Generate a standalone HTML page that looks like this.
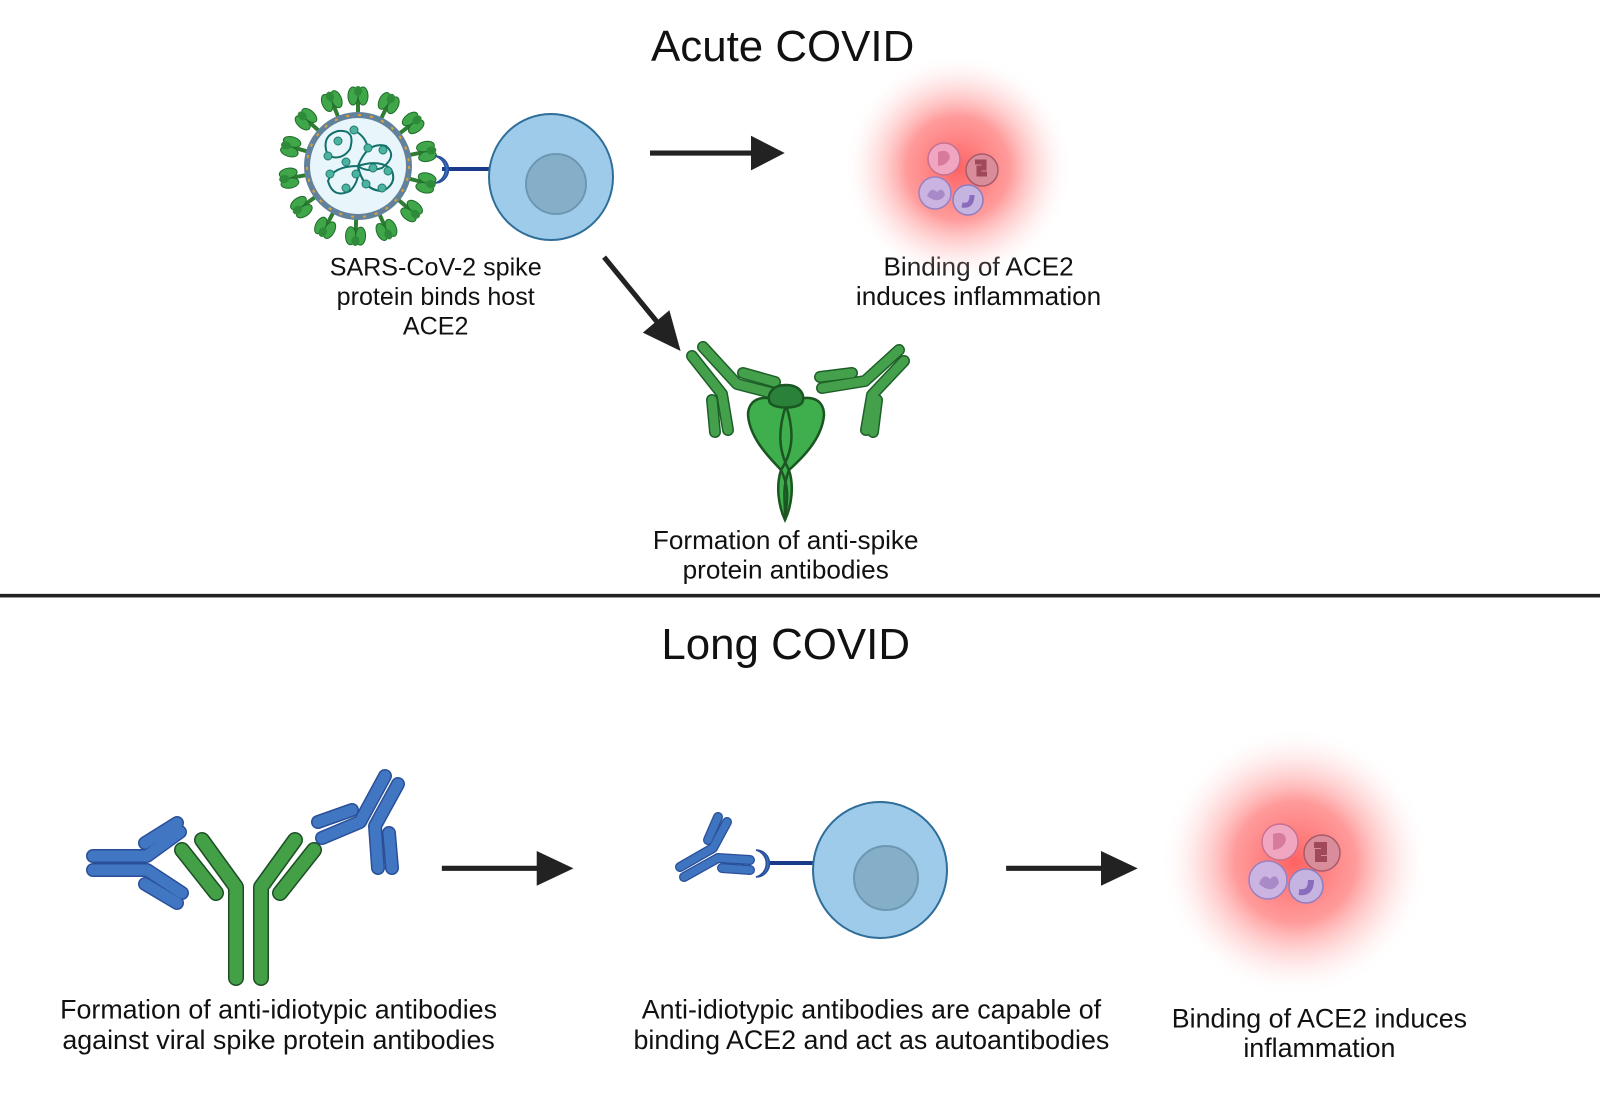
<!DOCTYPE html>
<html><head><meta charset="utf-8"><style>
html,body{margin:0;padding:0;background:#fff;}
svg{display:block;}
text{font-family:"Liberation Sans",sans-serif;fill:#111;}
</style></head><body>
<svg width="1600" height="1120" viewBox="0 0 1600 1120" xmlns="http://www.w3.org/2000/svg">
<defs>
<radialGradient id="glow">
<stop offset="0" stop-color="#ff5a5a" stop-opacity="0.95"/>
<stop offset="0.45" stop-color="#ff7070" stop-opacity="0.7"/>
<stop offset="0.75" stop-color="#ffb0b0" stop-opacity="0.3"/>
<stop offset="1" stop-color="#fff" stop-opacity="0"/>
</radialGradient>
<g id="spike">
<line x1="0" y1="-50" x2="0" y2="-66" stroke="#2e7d32" stroke-width="4"/>
<ellipse cx="-5" cy="-70" rx="5" ry="9" fill="#3fa64a" stroke="#1f6b2a" stroke-width="1"/>
<ellipse cx="5" cy="-70" rx="5" ry="9" fill="#3fa64a" stroke="#1f6b2a" stroke-width="1"/>
<ellipse cx="0" cy="-75" rx="4" ry="5" fill="#2e8b3a"/>
</g>
</defs>
<rect width="1600" height="1120" fill="#fff"/>

<g transform="scale(1.0204)">
<text x="767" y="60" font-size="43" text-anchor="middle">Acute COVID</text>
<text x="770" y="646" font-size="43" text-anchor="middle">Long COVID</text>
<rect x="0" y="582" width="1568" height="3.5" fill="#222"/>
<g fill="#222" stroke="#222">
<line x1="637" y1="150" x2="740" y2="150" stroke-width="5"/>
<polygon points="736,133 769,150 736,167" stroke="none"/>
<line x1="592" y1="252" x2="646" y2="318" stroke-width="5"/>
<polygon points="630,326 667,344 656,304" stroke="none"/>
<line x1="433" y1="851" x2="530" y2="851" stroke-width="5"/>
<polygon points="526,834 562,851 526,868" stroke="none"/>
<line x1="986" y1="851" x2="1083" y2="851" stroke-width="5"/>
<polygon points="1079,834 1115,851 1079,868" stroke="none"/>
</g>
<g text-anchor="middle">
<g font-size="24.6">
<text x="427" y="270">SARS-CoV-2 spike</text>
<text x="427" y="299">protein binds host</text>
<text x="427" y="328">ACE2</text>
</g>
<g font-size="25.6">
<text x="959" y="270">Binding of ACE2</text>
<text x="959" y="299">induces inflammation</text>
<text x="770" y="538">Formation of anti-spike</text>
<text x="770" y="567">protein antibodies</text>
</g>
<g font-size="26.3">
<text x="273" y="998">Formation of anti-idiotypic antibodies</text>
<text x="273" y="1028">against viral spike protein antibodies</text>
<text x="854" y="998">Anti-idiotypic antibodies are capable of</text>
<text x="854" y="1028">binding ACE2 and act as autoantibodies</text>
<text x="1293" y="1007">Binding of ACE2 induces</text>
<text x="1293" y="1036">inflammation</text>
</g>
</g>
</g>

<circle cx="958" cy="168" r="115" fill="url(#glow)"/>
<circle cx="1295" cy="862" r="135" fill="url(#glow)"/>
<g stroke-width="1.5">
<circle cx="944" cy="159" r="16" fill="#f0a6c0" stroke="#c8708e"/>
<path d="M938,152 q10,-4 12,5 q-2,8 -12,9" fill="#d77b9d"/>
<circle cx="982" cy="170" r="16" fill="#d98d9a" stroke="#a85a6a"/>
<path d="M975,162 h9 v6 h-5 v6 h8" fill="none" stroke="#a0485c" stroke-width="5"/>
<circle cx="935" cy="193" r="16" fill="#cbb4e2" stroke="#9a80c0"/>
<path d="M927,196 q4,-10 10,-4 q6,-6 8,3 q-6,10 -18,1z" fill="#a98ac8"/>
<circle cx="968" cy="200" r="15" fill="#c5b4e0" stroke="#8f7cc0"/>
<path d="M962,205 q10,2 10,-10" fill="none" stroke="#8a6cbc" stroke-width="5"/>
</g>
<g stroke-width="1.5">
<circle cx="1280" cy="842" r="18" fill="#f0a6c0" stroke="#c8708e"/>
<path d="M1273,834 q12,-4 13,6 q-2,9 -13,10" fill="#d77b9d"/>
<circle cx="1322" cy="853" r="18" fill="#d98d9a" stroke="#a85a6a"/>
<path d="M1314,845 h10 v7 h-6 v7 h9" fill="none" stroke="#a0485c" stroke-width="6"/>
<circle cx="1268" cy="880" r="19" fill="#cbb4e2" stroke="#9a80c0"/>
<path d="M1259,884 q4,-12 11,-5 q7,-7 9,4 q-7,12 -20,1z" fill="#a98ac8"/>
<circle cx="1306" cy="886" r="17" fill="#c5b4e0" stroke="#8f7cc0"/>
<path d="M1299,892 q12,2 12,-12" fill="none" stroke="#8a6cbc" stroke-width="6"/>
</g>

<g transform="translate(358,166)">
<use href="#spike" transform="rotate(0)"/><use href="#spike" transform="rotate(26)"/><use href="#spike" transform="rotate(52)"/><use href="#spike" transform="rotate(78)"/><use href="#spike" transform="rotate(104)"/><use href="#spike" transform="rotate(130)"/><use href="#spike" transform="rotate(156)"/><use href="#spike" transform="rotate(182)"/><use href="#spike" transform="rotate(208)"/><use href="#spike" transform="rotate(234)"/><use href="#spike" transform="rotate(260)"/><use href="#spike" transform="rotate(286)"/><use href="#spike" transform="rotate(312)"/><use href="#spike" transform="rotate(338)"/>
<circle r="51" fill="#e8f5fa" stroke="#62829c" stroke-width="6"/>
<circle r="51" fill="none" stroke="#e0a030" stroke-width="2" stroke-dasharray="3 9"/>
<g fill="none" stroke="#11706a" stroke-width="2">
<path d="M-30,-10 q-8,-20 10,-25 q18,-2 12,18 q-8,12 -22,7 M0,0 q10,-25 28,-20 q12,10 -4,22 q-15,5 -24,-2 M0,0 q-25,0 -30,15 q5,18 22,10 q10,-10 8,-25 M0,0 q5,25 25,25 q15,-8 8,-22 q-12,-10 -33,-3 M-5,-36 q12,5 15,18"/>
</g>
<g fill="#4bb3a0" stroke="#1f7a6e" stroke-width="1">
<circle cx="-20" cy="-25" r="4"/><circle cx="-30" cy="-10" r="4"/><circle cx="-12" cy="-4" r="4"/><circle cx="10" cy="-18" r="4"/><circle cx="25" cy="-16" r="4"/><circle cx="-28" cy="8" r="4"/><circle cx="-12" cy="22" r="4"/><circle cx="-4" cy="-36" r="4"/><circle cx="8" cy="18" r="4"/><circle cx="24" cy="22" r="4"/><circle cx="30" cy="5" r="4"/><circle cx="-2" cy="8" r="4"/><circle cx="15" cy="2" r="4"/>
</g>
</g>
<line x1="442" y1="169" x2="490" y2="169" stroke="#1a3a8a" stroke-width="4"/>
<path d="M435,156 a14,14 0 0,1 0,27 a10,10 0 0,0 0,-27z" fill="#3a6fc0" stroke="#2a4f99" stroke-width="1.5"/>
<ellipse cx="551" cy="177" rx="62" ry="63" fill="#9ecbe9" stroke="#2f6e99" stroke-width="2"/>
<circle cx="556" cy="184" r="30" fill="#85afc8" stroke="#6e98b2" stroke-width="2"/>

<line x1="766" y1="863" x2="814" y2="863" stroke="#1a3a8a" stroke-width="4"/>
<path d="M756,850 a14,14 0 0,1 0,27 a10,10 0 0,0 0,-27z" fill="#3a6fc0" stroke="#2a4f99" stroke-width="1.5"/>
<ellipse cx="880" cy="870" rx="67" ry="68" fill="#9ecbe9" stroke="#2f6e99" stroke-width="2"/>
<circle cx="886" cy="878" r="32" fill="#85afc8" stroke="#6e98b2" stroke-width="2"/>

<g fill="none" stroke-linejoin="round" stroke-linecap="round">
<g stroke="#2a4f99" stroke-width="10">
<path d="M680,867 L713,848 L727,822"/><path d="M708,840 L718,817"/><path d="M684,877 L718,858 L750,860"/><path d="M722,868 L750,870"/>
</g>
<g stroke="#3f74c0" stroke-width="7.5">
<path d="M680,867 L713,848 L727,822"/><path d="M708,840 L718,817"/><path d="M684,877 L718,858 L750,860"/><path d="M722,868 L750,870"/>
</g>
</g>

<g fill="none" stroke-linejoin="round" stroke-linecap="round">
<g stroke="#1d4f25" stroke-width="16">
<path d="M236,978 L236,887 L202,840"/><path d="M261,978 L261,887 L295,840"/>
<path d="M182,850 L216,893"/><path d="M280,893 L314,850"/>
</g>
<g stroke="#43a047" stroke-width="13">
<path d="M236,978 L236,887 L202,840"/><path d="M261,978 L261,887 L295,840"/>
<path d="M182,850 L216,893"/><path d="M280,893 L314,850"/>
</g>
</g>
<g fill="none" stroke-linejoin="round" stroke-linecap="round">
<g stroke="#2a4f99" stroke-width="14">
<path d="M93,856 L147,856 L180,832"/><path d="M93,870 L147,870 L182,893"/>
<path d="M145,843 L177,823"/><path d="M145,884 L177,903"/>
<path d="M322,838 L360,822 L385,776"/><path d="M398,784 L375,826 L378,868"/>
<path d="M318,822 L352,810"/><path d="M389,833 L392,868"/>
</g>
<g stroke="#4177c2" stroke-width="11">
<path d="M93,856 L147,856 L180,832"/><path d="M93,870 L147,870 L182,893"/>
<path d="M145,843 L177,823"/><path d="M145,884 L177,903"/>
<path d="M322,838 L360,822 L385,776"/><path d="M398,784 L375,826 L378,868"/>
<path d="M318,822 L352,810"/><path d="M389,833 L392,868"/>
</g>
</g>

<g fill="none" stroke-linejoin="round" stroke-linecap="round">
<g stroke="#1d5f28" stroke-width="12">
<path d="M692,356 L722,394 L728,430"/><path d="M703,347 L737,384 L772,393"/>
<path d="M743,373 L775,382"/><path d="M712,400 L715,432"/>
<path d="M899,350 L865,381 L822,388"/><path d="M904,361 L872,395 L866,430"/>
<path d="M820,377 L852,373"/><path d="M877,400 L873,432"/>
</g>
<g stroke="#45a04c" stroke-width="9">
<path d="M692,356 L722,394 L728,430"/><path d="M703,347 L737,384 L772,393"/>
<path d="M743,373 L775,382"/><path d="M712,400 L715,432"/>
<path d="M899,350 L865,381 L822,388"/><path d="M904,361 L872,395 L866,430"/>
<path d="M820,377 L852,373"/><path d="M877,400 L873,432"/>
</g>
</g>
<g stroke="#1a5522" stroke-width="2.5">
<path d="M786,405 C765,392 748,398 748,415 C750,440 772,460 781,470 C776,485 778,505 785,520 C792,505 794,485 789,470 C800,460 822,440 824,415 C824,398 808,392 786,405Z" fill="#3fae4c"/>
<path d="M786,405 C778,430 778,450 789,470 C781,490 786,505 785,520" fill="none"/>
<path d="M786,405 C794,430 794,450 781,470 C791,490 786,505 785,520" fill="none"/>
<path d="M786,385 c-14,0 -20,10 -16,18 c6,6 26,6 32,0 c4,-8 -2,-18 -16,-18z" fill="#2a823a"/>
</g>
</svg>
</body></html>
